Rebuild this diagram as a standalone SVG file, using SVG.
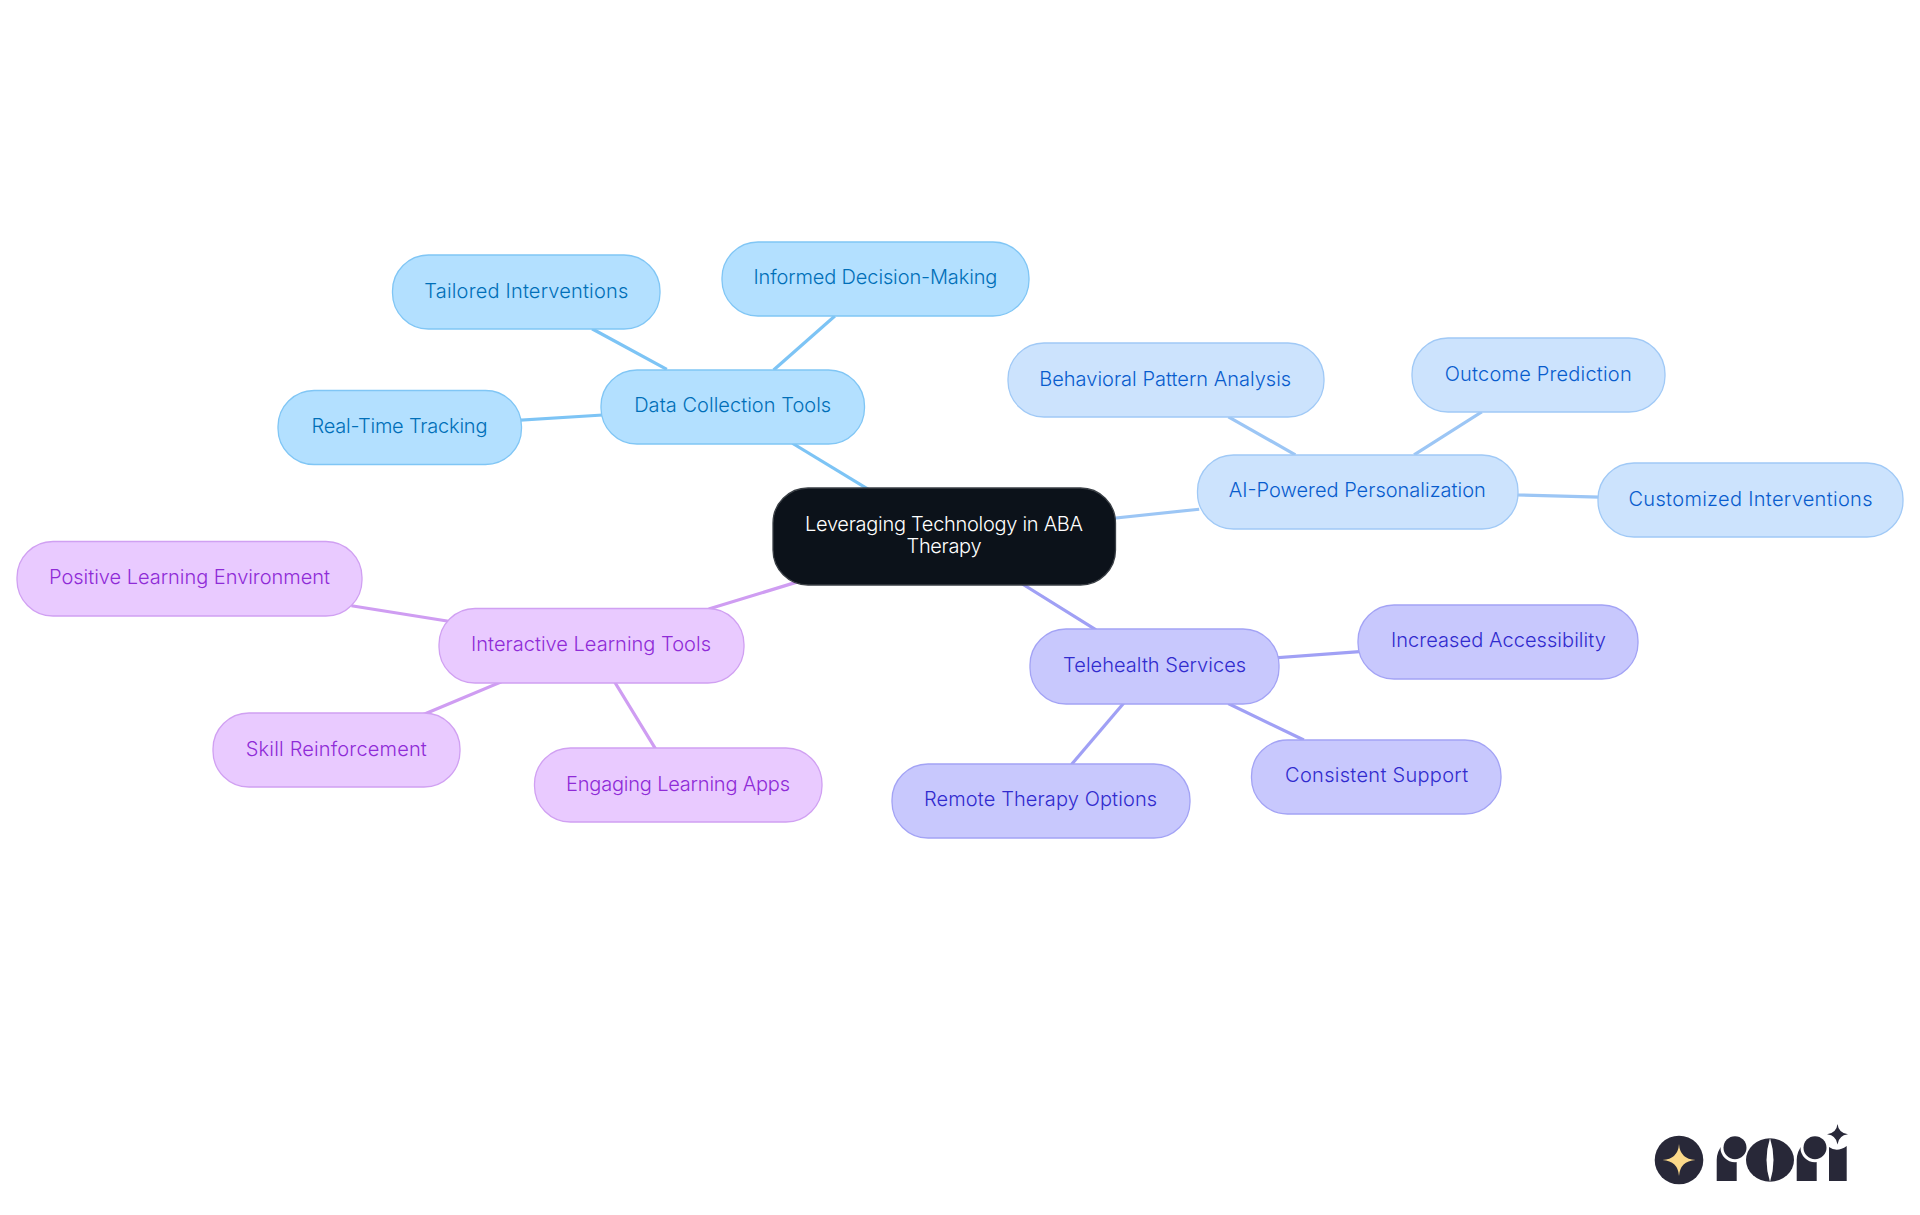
<svg xmlns="http://www.w3.org/2000/svg" width="1920" height="1215" viewBox="0 0 1920 1215">
<style>
text{font-family:"Inter","Liberation Sans",sans-serif;font-size:20px;font-weight:350;text-anchor:middle}
.n{stroke-width:1.3}
.c line{stroke-width:3.2;stroke-linecap:square;fill:none}
.sky rect{fill:#b3e0ff;stroke:#80c6f5}.sky text{fill:#006fb8}
.blue rect{fill:#cce3fd;stroke:#a0c9f6}.blue text{fill:#085ccd}
.ind rect{fill:#c8c8fd;stroke:#a3a3f5}.ind text{fill:#312bce}
.pur rect{fill:#e9caff;stroke:#d0a0f2}.pur text{fill:#8f2bd7}
.k{fill:#282838}
</style>
<rect width="1920" height="1215" fill="#fff"/>
<g id="connectors" class="c">
<g stroke="#7dc4f5"><line x1="793.7" y1="444" x2="867" y2="488.6"/><line x1="593.4" y1="329.5" x2="665.4" y2="368.7"/><line x1="833.7" y1="317" x2="774.8" y2="369"/><line x1="521.6" y1="420" x2="601.2" y2="415.1"/></g>
<g stroke="#9cc6f5"><line x1="1115.5" y1="518" x2="1197.6" y2="509.4"/><line x1="1229.8" y1="417.7" x2="1294" y2="454"/><line x1="1480.5" y1="412.7" x2="1415.4" y2="454"/><line x1="1518.4" y1="495" x2="1598" y2="497"/></g>
<g stroke="#a0a0f5"><line x1="1022.5" y1="584" x2="1094.7" y2="629"/><line x1="1279" y1="657.5" x2="1358" y2="651.7"/><line x1="1229.7" y1="704.3" x2="1302.4" y2="739.3"/><line x1="1123" y1="704" x2="1072.5" y2="763.3"/></g>
<g stroke="#cf9df2"><line x1="798.4" y1="581.6" x2="710.2" y2="608.6"/><line x1="353" y1="606" x2="447" y2="621"/><line x1="500.8" y1="682" x2="424.9" y2="713.9"/><line x1="614.7" y1="682" x2="655" y2="748"/></g>
</g>
<g id="root"><rect x="773" y="488" width="342.5" height="97" rx="35" fill="#0c121a" stroke="#3a3f45" stroke-width="1.3"/><text x="944" y="530.7" fill="#fff" textLength="278" style="font-weight:300">Leveraging Technology in ABA</text><text x="944" y="552.7" fill="#fff" textLength="75" style="font-weight:300">Therapy</text></g>
<g id="data" class="sky"><rect class="n" x="601" y="370" width="263.5" height="74" rx="36"/><text x="732.7" y="411.7" textLength="197">Data Collection Tools</text></g>
<g id="tailored" class="sky"><rect class="n" x="392.5" y="255" width="267.5" height="74" rx="36"/><text x="526.3" y="298" textLength="204">Tailored Interventions</text></g>
<g id="informed" class="sky"><rect class="n" x="722" y="242" width="307" height="74" rx="36"/><text x="875.4" y="284" textLength="244">Informed Decision-Making</text></g>
<g id="realtime" class="sky"><rect class="n" x="278" y="390.5" width="243.5" height="74" rx="36"/><text x="399.5" y="433.3" textLength="176">Real-Time Tracking</text></g>
<g id="ai" class="blue"><rect class="n" x="1197.5" y="455" width="320.5" height="74" rx="36"/><text x="1357.3" y="496.7" textLength="257">AI-Powered Personalization</text></g>
<g id="behavioral" class="blue"><rect class="n" x="1008" y="343" width="316" height="74" rx="36"/><text x="1165.2" y="386" textLength="252">Behavioral Pattern Analysis</text></g>
<g id="outcome" class="blue"><rect class="n" x="1412" y="338" width="253" height="74" rx="36"/><text x="1538.2" y="381" textLength="187">Outcome Prediction</text></g>
<g id="customized" class="blue"><rect class="n" x="1598" y="463" width="305" height="74" rx="36"/><text x="1750.5" y="505.5" textLength="244">Customized Interventions</text></g>
<g id="telehealth" class="ind"><rect class="n" x="1030" y="629" width="249" height="75" rx="36"/><text x="1154.6" y="671.7" textLength="183">Telehealth Services</text></g>
<g id="increased" class="ind"><rect class="n" x="1358" y="605" width="280" height="74" rx="36"/><text x="1498.4" y="647.3" textLength="215">Increased Accessibility</text></g>
<g id="consistent" class="ind"><rect class="n" x="1251.5" y="740" width="249.5" height="74" rx="36"/><text x="1376.6" y="782.3" textLength="183">Consistent Support</text></g>
<g id="remote" class="ind"><rect class="n" x="892" y="764" width="298" height="74" rx="36"/><text x="1040.6" y="806" textLength="233">Remote Therapy Options</text></g>
<g id="interactive" class="pur"><rect class="n" x="439" y="608.5" width="305" height="74.5" rx="36"/><text x="591" y="650.7" textLength="240">Interactive Learning Tools</text></g>
<g id="positive" class="pur"><rect class="n" x="17" y="541.5" width="345" height="74.5" rx="36"/><text x="189.5" y="584" textLength="281">Positive Learning Environment</text></g>
<g id="skill" class="pur"><rect class="n" x="213" y="713" width="247" height="74" rx="36"/><text x="336.3" y="755.5" textLength="181">Skill Reinforcement</text></g>
<g id="engaging" class="pur"><rect class="n" x="534.5" y="748" width="287.5" height="74" rx="36"/><text x="678" y="790.5" textLength="224">Engaging Learning Apps</text></g>
<g id="logo">
<circle class="k" cx="1679" cy="1160" r="24.3"/>
<path d="M1679 1144Q1680 1159 1695.5 1160Q1680 1161 1679 1176Q1678 1161 1662.5 1160Q1678 1159 1679 1144Z" fill="#fbd98a"/>
<path class="k" d="M1716.7 1181V1160A22 22 0 0 1 1736.7 1138V1181Z"/><circle cx="1735" cy="1147.7" r="14.5" fill="#fff"/><circle class="k" cx="1735" cy="1147.7" r="11.5"/>
<ellipse class="k" cx="1770" cy="1160" rx="24" ry="21.7"/><path d="M1770 1138Q1763 1160 1770 1182Q1777 1160 1770 1138Z" fill="#fff"/>
<path class="k" d="M1796.7 1181V1160A22 22 0 0 1 1816.7 1138V1181Z"/><circle cx="1815" cy="1147.7" r="14.5" fill="#fff"/><circle class="k" cx="1815" cy="1147.7" r="11.5"/>
<path class="k" d="M1829 1181V1147Q1837 1153 1846.7 1146V1181Z"/>
<path class="k" d="M1837.5 1124Q1838.5 1133 1848 1134.3Q1838.5 1135.5 1837.5 1144.5Q1836.5 1135.5 1827 1134.3Q1836.5 1133 1837.5 1124Z"/>
</g>
</svg>
